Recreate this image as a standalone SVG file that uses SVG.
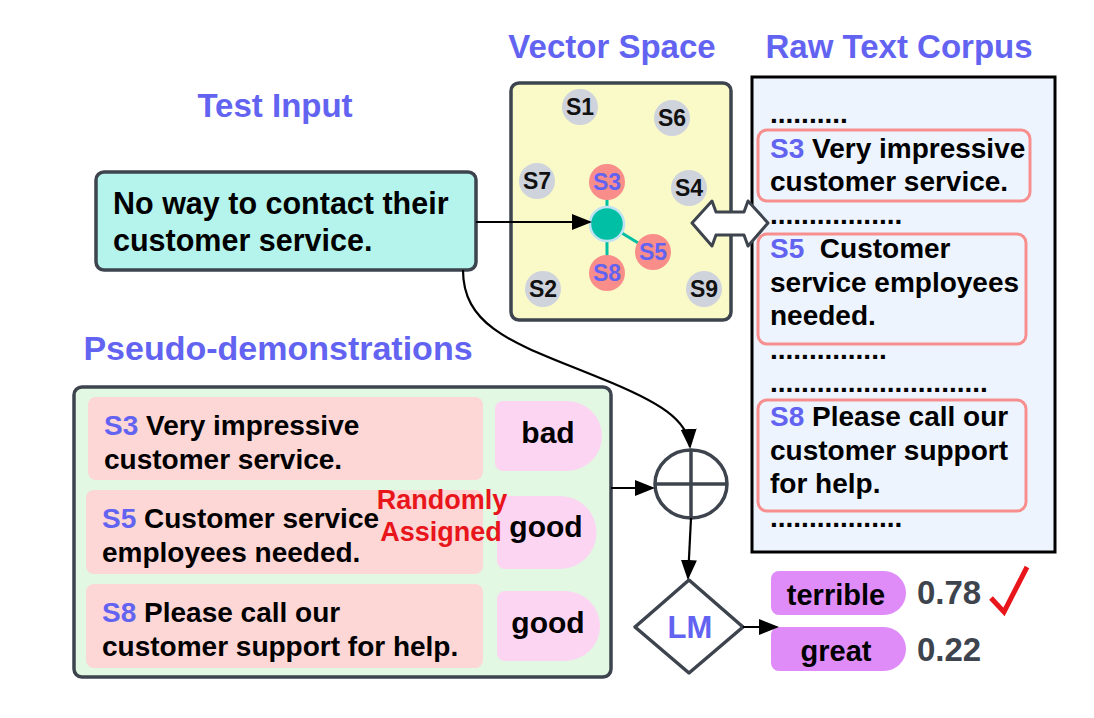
<svg xmlns="http://www.w3.org/2000/svg" width="1094" height="718" viewBox="0 0 1094 718">
<defs>
<style>
text{font-family:"Liberation Sans",Arial,sans-serif;font-weight:bold;}
.h{fill:#6363f2;font-size:33px;}
.b{fill:#000;font-size:28px;}
.s{fill:#6363f2;}
.cl{font-size:23px;fill:#111;text-anchor:middle;}
.cb{font-size:23px;fill:#6363f2;text-anchor:middle;}
.g{fill:#cfd3dc;}
.p{fill:#f98d8a;}
.frame{stroke:#3d444d;stroke-width:3.5;}
.conn{fill:none;stroke:#000;stroke-width:2.2;}
.row{fill:#fdd6d6;}
.lab{fill:#fcd5f3;}
.pill{fill:#df8cf9;}
.box{fill:none;stroke:#f78f8f;stroke-width:3;}
.num{fill:#3d444d;font-size:33px;}
</style>
<marker id="ah2" viewBox="0 0 10 10" refX="9" refY="5" markerWidth="20" markerHeight="16" orient="auto" markerUnits="userSpaceOnUse" preserveAspectRatio="none">
<path d="M0,0 L10,5 L0,10 Z" fill="#000"/>
</marker>
</defs>

<g id="headings">
<text class="h" x="612" y="58" text-anchor="middle">Vector Space</text>
<text class="h" x="899" y="58" text-anchor="middle">Raw Text Corpus</text>
<text class="h" x="275" y="117" text-anchor="middle">Test Input</text>
<text class="h" x="278" y="360" text-anchor="middle" style="font-size:34px">Pseudo-demonstrations</text>
</g>

<g id="test-input">
<rect x="96" y="172" width="380" height="98" rx="8" fill="#b5f4ec" class="frame"/>
<text class="b" x="113" y="214" style="font-size:30.5px">No way to contact their</text>
<text class="b" x="113" y="251" style="font-size:30.5px">customer service.</text>
</g>

<g id="vector-space">
<rect x="511" y="83" width="220" height="237" rx="8" fill="#fafac8" class="frame"/>
<line x1="607" y1="224" x2="607" y2="182" stroke="#00bfa5" stroke-width="3"/>
<line x1="607" y1="224" x2="607" y2="273" stroke="#00bfa5" stroke-width="3"/>
<line x1="607" y1="224" x2="653" y2="252" stroke="#00bfa5" stroke-width="3"/>
<circle class="g" cx="580" cy="107" r="18"/><text class="cl" x="580" y="115">S1</text>
<circle class="g" cx="672" cy="118" r="18"/><text class="cl" x="672" y="126">S6</text>
<circle class="g" cx="537" cy="181" r="18"/><text class="cl" x="537" y="189">S7</text>
<circle class="g" cx="689" cy="188" r="18"/><text class="cl" x="689" y="196">S4</text>
<circle class="g" cx="543" cy="289" r="18"/><text class="cl" x="543" y="297">S2</text>
<circle class="g" cx="704" cy="289" r="18"/><text class="cl" x="704" y="297">S9</text>
<circle class="p" cx="607" cy="182" r="18"/><text class="cb" x="607" y="190">S3</text>
<circle class="p" cx="653" cy="252" r="18"/><text class="cb" x="653" y="260">S5</text>
<circle class="p" cx="607" cy="273" r="18"/><text class="cb" x="607" y="281">S8</text>
<circle cx="607" cy="224" r="17" fill="#00bfa5" stroke="#bfe3f2" stroke-width="2.5"/>
</g>

<g id="corpus">
<rect x="752" y="77" width="303" height="475" fill="#edf4fe" stroke="#000" stroke-width="3"/>
<text class="b" x="770" y="123">..........</text>
<rect class="box" x="758" y="130" width="272" height="71" rx="9"/>
<text class="b" x="770" y="158"><tspan class="s">S3</tspan> Very impressive</text>
<text class="b" x="770" y="191">customer service.</text>
<text class="b" x="770" y="224">.................</text>
<rect class="box" x="758" y="234" width="268" height="110" rx="9"/>
<text class="b" x="770" y="258" style="white-space:pre"><tspan class="s">S5</tspan>  Customer</text>
<text class="b" x="770" y="292">service employees</text>
<text class="b" x="770" y="325">needed.</text>
<text class="b" x="770" y="359">...............</text>
<text class="b" x="770" y="392">............................</text>
<rect class="box" x="758" y="400" width="268" height="111" rx="9"/>
<text class="b" x="770" y="426"><tspan class="s">S8</tspan> Please call our</text>
<text class="b" x="770" y="460">customer support</text>
<text class="b" x="770" y="493">for help.</text>
<text class="b" x="770" y="527">.................</text>
</g>

<g id="double-arrow">
<path d="M692,223 L712,201 L716,212 L744,212 L748,201 L768,223 L748,246 L744,235 L716,235 L712,246 Z" fill="#fff" stroke="#3d444d" stroke-width="3" stroke-linejoin="round"/>
</g>

<g id="pseudo-demos">
<rect x="74" y="387" width="537" height="290" rx="8" fill="#e2f8e2" class="frame"/>
<rect class="row" x="88" y="397" width="395" height="83" rx="8"/>
<rect class="row" x="86" y="490" width="397" height="84" rx="8"/>
<rect class="row" x="86" y="584" width="397" height="84" rx="8"/>
<path class="lab" d="M503,401 H567 A35,35 0 0 1 567,471 H503 A8,8 0 0 1 495,463 V409 A8,8 0 0 1 503,401 Z"/>
<path class="lab" d="M505,496 H560 A36,36 0 0 1 560,569 H505 A8,8 0 0 1 497,561 V504 A8,8 0 0 1 505,496 Z"/>
<path class="lab" d="M505,591 H565 A35,35 0 0 1 565,661 H505 A8,8 0 0 1 497,653 V599 A8,8 0 0 1 505,591 Z"/>
<text class="b" x="104" y="435"><tspan class="s">S3</tspan> Very impressive</text>
<text class="b" x="104" y="469">customer service.</text>
<text class="b" x="102" y="528"><tspan class="s">S5</tspan> Customer service</text>
<text class="b" x="102" y="562">employees needed.</text>
<text class="b" x="102" y="622"><tspan class="s">S8</tspan> Please call our</text>
<text class="b" x="102" y="656">customer support for help.</text>
<text x="548" y="443" text-anchor="middle" style="font-size:30px">bad</text>
<text x="546" y="537" text-anchor="middle" style="font-size:30px">good</text>
<text x="548" y="633" text-anchor="middle" style="font-size:30px">good</text>
<text x="442" y="509" text-anchor="middle" style="font-size:27px;fill:#e8151b">Randomly</text>
<text x="441" y="541" text-anchor="middle" style="font-size:27px;fill:#e8151b">Assigned</text>
</g>

<g id="concat">
<ellipse cx="691" cy="484" rx="36" ry="34" fill="#fff" class="frame"/>
<line x1="655" y1="484" x2="727" y2="484" class="frame"/>
<line x1="691" y1="450" x2="691" y2="518" class="frame"/>
</g>

<g id="lm">
<path d="M689,580 L743,627 L689,673 L635,627 Z" fill="#fff" class="frame" stroke-linejoin="round"/>
<text x="690" y="638" text-anchor="middle" style="font-size:31px;fill:#6363f2">LM</text>
</g>

<g id="outputs">
<path class="pill" d="M779,571 H884 A22,22 0 0 1 884,615 H779 A8,8 0 0 1 771,607 V579 A8,8 0 0 1 779,571 Z"/>
<path class="pill" d="M779,627 H884 A22,22 0 0 1 884,671 H779 A8,8 0 0 1 771,663 V635 A8,8 0 0 1 779,627 Z"/>
<text x="836" y="605" text-anchor="middle" style="font-size:29px">terrible</text>
<text x="836" y="661" text-anchor="middle" style="font-size:29px">great</text>
<text class="num" x="917" y="604">0.78</text>
<text class="num" x="917" y="661">0.22</text>
<path d="M991,598 L1004,612 L1027,567" fill="none" stroke="#e8151b" stroke-width="5"/>
</g>

<g id="connectors">
<line class="conn" x1="476" y1="222" x2="590" y2="222" marker-end="url(#ah2)"/>
<path class="conn" d="M463,270 C463,330 520,345 600,378 C660,402 688,420 690,447" marker-end="url(#ah2)"/>
<line class="conn" x1="611" y1="488" x2="653" y2="488" marker-end="url(#ah2)"/>
<line class="conn" x1="691" y1="518" x2="688" y2="578" marker-end="url(#ah2)"/>
<line class="conn" x1="743" y1="627" x2="777" y2="627" marker-end="url(#ah2)"/>
</g>
</svg>
